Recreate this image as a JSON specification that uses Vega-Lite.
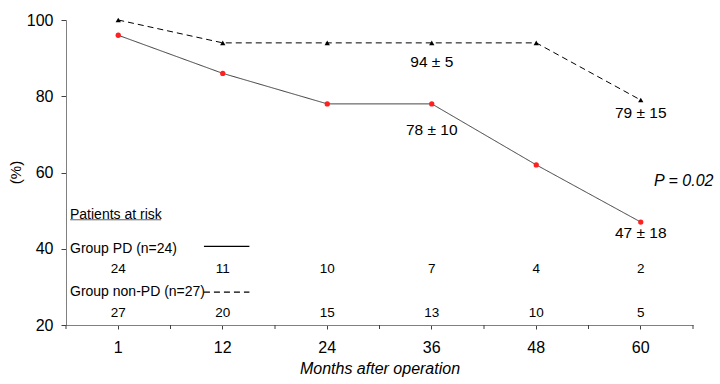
{
  "$schema": "https://vega.github.io/schema/vega-lite/v6.json",
  "width": 627,
  "height": 305,
  "autosize": "none",
  "padding": {"left": 66, "top": 20, "right": 27, "bottom": 59},
  "background": "white",
  "config": {
    "view": {"stroke": null},
    "font": "Liberation Sans",
    "text": {"font": "Liberation Sans", "fontSize": 15.5, "baseline": "middle"},
    "axis": {"grid": false, "domainColor": "#808080", "tickColor": "#404040", "labelColor": "#000", "titleColor": "#000", "labelFont": "Liberation Sans", "titleFont": "Liberation Sans"}
  },
  "datasets": {
    "surv": [
      {"month": "1", "group": "PD", "pct": 96},
      {"month": "12", "group": "PD", "pct": 86},
      {"month": "24", "group": "PD", "pct": 78},
      {"month": "36", "group": "PD", "pct": 78},
      {"month": "48", "group": "PD", "pct": 62},
      {"month": "60", "group": "PD", "pct": 47},
      {"month": "1", "group": "non-PD", "pct": 100},
      {"month": "12", "group": "non-PD", "pct": 94},
      {"month": "24", "group": "non-PD", "pct": 94},
      {"month": "36", "group": "non-PD", "pct": 94},
      {"month": "48", "group": "non-PD", "pct": 94},
      {"month": "60", "group": "non-PD", "pct": 79}
    ],
    "risk": [
      {"month": "1", "group": "PD", "n": 24},
      {"month": "12", "group": "PD", "n": 11},
      {"month": "24", "group": "PD", "n": 10},
      {"month": "36", "group": "PD", "n": 7},
      {"month": "48", "group": "PD", "n": 4},
      {"month": "60", "group": "PD", "n": 2},
      {"month": "1", "group": "non-PD", "n": 27},
      {"month": "12", "group": "non-PD", "n": 20},
      {"month": "24", "group": "non-PD", "n": 15},
      {"month": "36", "group": "non-PD", "n": 13},
      {"month": "48", "group": "non-PD", "n": 10},
      {"month": "60", "group": "non-PD", "n": 5}
    ]
  },
  "layer": [
    {
      "data": {"name": "surv"},
      "mark": {"type": "line", "strokeWidth": 1},
      "encoding": {
        "x": {"field": "month", "type": "ordinal", "sort": ["1", "12", "24", "36", "48", "60"],
              "scale": {"type": "band", "paddingInner": 0, "paddingOuter": 0},
              "axis": {"orient": "bottom", "title": "Months after operation", "titleFontStyle": "italic", "titleFontWeight": "normal", "titleFontSize": 16, "titlePadding": 5,
                       "labelAngle": 0, "labelFontSize": 16, "labelPadding": 10, "tickSize": 4, "domainColor": "#808080"}},
        "y": {"field": "pct", "type": "quantitative", "scale": {"domain": [20, 100], "nice": false, "zero": false},
              "axis": {"values": [20, 40, 60, 80, 100], "title": "(%)", "titleFontWeight": "normal", "titleFontSize": 15,
                       "titleX": -51, "titleY": 152, "titleAlign": "center", "titleBaseline": "middle",
                       "labelFontSize": 16, "labelPadding": 8, "tickSize": 5}},
        "color": {"field": "group", "type": "nominal", "scale": {"domain": ["PD", "non-PD"], "range": ["#3a3a3a", "#000000"]}, "legend": null},
        "strokeDash": {"field": "group", "type": "nominal", "scale": {"domain": ["PD", "non-PD"], "range": [[1, 0], [6, 4]]}, "legend": null}
      }
    },
    {
      "data": {"name": "surv"},
      "transform": [{"filter": "datum.group === 'PD'"}],
      "mark": {"type": "rule", "color": "#404040", "strokeWidth": 1},
      "encoding": {
        "x": {"field": "month", "type": "ordinal", "sort": ["1", "12", "24", "36", "48", "60"], "bandPosition": 0},
        "y": {"datum": 20},
        "y2": {"datum": 18.95}
      }
    },
    {
      "data": {"values": [{"month": "60"}]},
      "mark": {"type": "rule", "color": "#404040", "strokeWidth": 1},
      "encoding": {
        "x": {"field": "month", "type": "ordinal", "bandPosition": 1},
        "y": {"datum": 20},
        "y2": {"datum": 18.95}
      }
    },
    {
      "data": {"name": "surv"},
      "mark": {"type": "point", "filled": true, "opacity": 1, "size": 28},
      "encoding": {
        "x": {"field": "month", "type": "ordinal", "sort": ["1", "12", "24", "36", "48", "60"]},
        "y": {"field": "pct", "type": "quantitative"},
        "shape": {"field": "group", "type": "nominal", "scale": {"domain": ["PD", "non-PD"], "range": ["circle", "triangle-up"]}, "legend": null},
        "color": {"field": "group", "type": "nominal", "scale": {"domain": ["PD", "non-PD"], "range": ["#3a3a3a", "#000000"]}, "legend": null},
        "fill": {"field": "group", "type": "nominal", "scale": {"domain": ["PD", "non-PD"], "range": ["#ff2020", "#000000"]}, "legend": null}
      }
    },
    {
      "data": {"values": [{"month": "36", "label": "94 ± 5"}]},
      "mark": {"type": "text"},
      "encoding": {"x": {"field": "month", "type": "ordinal"}, "y": {"datum": 89}, "text": {"field": "label"}}
    },
    {
      "data": {"values": [{"month": "36", "label": "78 ± 10"}]},
      "mark": {"type": "text"},
      "encoding": {"x": {"field": "month", "type": "ordinal"}, "y": {"datum": 71.1}, "text": {"field": "label"}}
    },
    {
      "data": {"values": [{"month": "60", "label": "79 ± 15"}]},
      "mark": {"type": "text"},
      "encoding": {"x": {"field": "month", "type": "ordinal"}, "y": {"datum": 75.6}, "text": {"field": "label"}}
    },
    {
      "data": {"values": [{"month": "60", "label": "47 ± 18"}]},
      "mark": {"type": "text"},
      "encoding": {"x": {"field": "month", "type": "ordinal"}, "y": {"datum": 44.1}, "text": {"field": "label"}}
    },
    {
      "data": {"values": [{"month": "60", "label": "P = 0.02"}]},
      "mark": {"type": "text", "fontStyle": "italic", "dx": 43, "fontSize": 16},
      "encoding": {"x": {"field": "month", "type": "ordinal"}, "y": {"datum": 57.8}, "text": {"field": "label"}}
    },
    {
      "data": {"values": [{"month": "1", "label": "Patients at risk"}]},
      "mark": {"type": "text", "align": "left", "dx": 4, "fontSize": 14},
      "encoding": {"x": {"field": "month", "type": "ordinal", "bandPosition": 0}, "y": {"datum": 48.85}, "text": {"field": "label"}}
    },
    {
      "data": {"values": [{"month": "1"}]},
      "mark": {"type": "rule", "color": "#606060", "strokeWidth": 1},
      "encoding": {"x": {"datum": "1", "bandPosition": 0.04}, "x2": {"datum": "1", "bandPosition": 0.91}, "y": {"datum": 47.6}}
    },
    {
      "data": {"values": [{"month": "1", "label": "Group PD (n=24)"}]},
      "mark": {"type": "text", "align": "left", "dx": 4, "fontSize": 14},
      "encoding": {"x": {"field": "month", "type": "ordinal", "bandPosition": 0}, "y": {"datum": 40.0}, "text": {"field": "label"}}
    },
    {
      "data": {"values": [{"month": "1", "label": "Group non-PD (n=27)"}]},
      "mark": {"type": "text", "align": "left", "dx": 4, "fontSize": 14},
      "encoding": {"x": {"field": "month", "type": "ordinal", "bandPosition": 0}, "y": {"datum": 28.6}, "text": {"field": "label"}}
    },
    {
      "data": {"values": [{"group": "PD"}]},
      "mark": {"type": "rule", "color": "#000", "strokeWidth": 1.3},
      "encoding": {"x": {"datum": "12", "bandPosition": 0.32}, "x2": {"datum": "12", "bandPosition": 0.755}, "y": {"datum": 40.6}}
    },
    {
      "data": {"values": [{"group": "non-PD"}]},
      "mark": {"type": "rule", "color": "#000", "strokeWidth": 1.3, "strokeDash": [6, 4]},
      "encoding": {"x": {"datum": "12", "bandPosition": 0.32}, "x2": {"datum": "12", "bandPosition": 0.755}, "y": {"datum": 28.6}}
    },
    {
      "data": {"name": "risk"},
      "transform": [{"filter": "datum.group === 'PD'"}],
      "mark": {"type": "text", "fontSize": 13.5},
      "encoding": {"x": {"field": "month", "type": "ordinal"}, "y": {"datum": 34.7}, "text": {"field": "n"}}
    },
    {
      "data": {"name": "risk"},
      "transform": [{"filter": "datum.group === 'non-PD'"}],
      "mark": {"type": "text", "fontSize": 13.5},
      "encoding": {"x": {"field": "month", "type": "ordinal"}, "y": {"datum": 23.2}, "text": {"field": "n"}}
    }
  ]
}
